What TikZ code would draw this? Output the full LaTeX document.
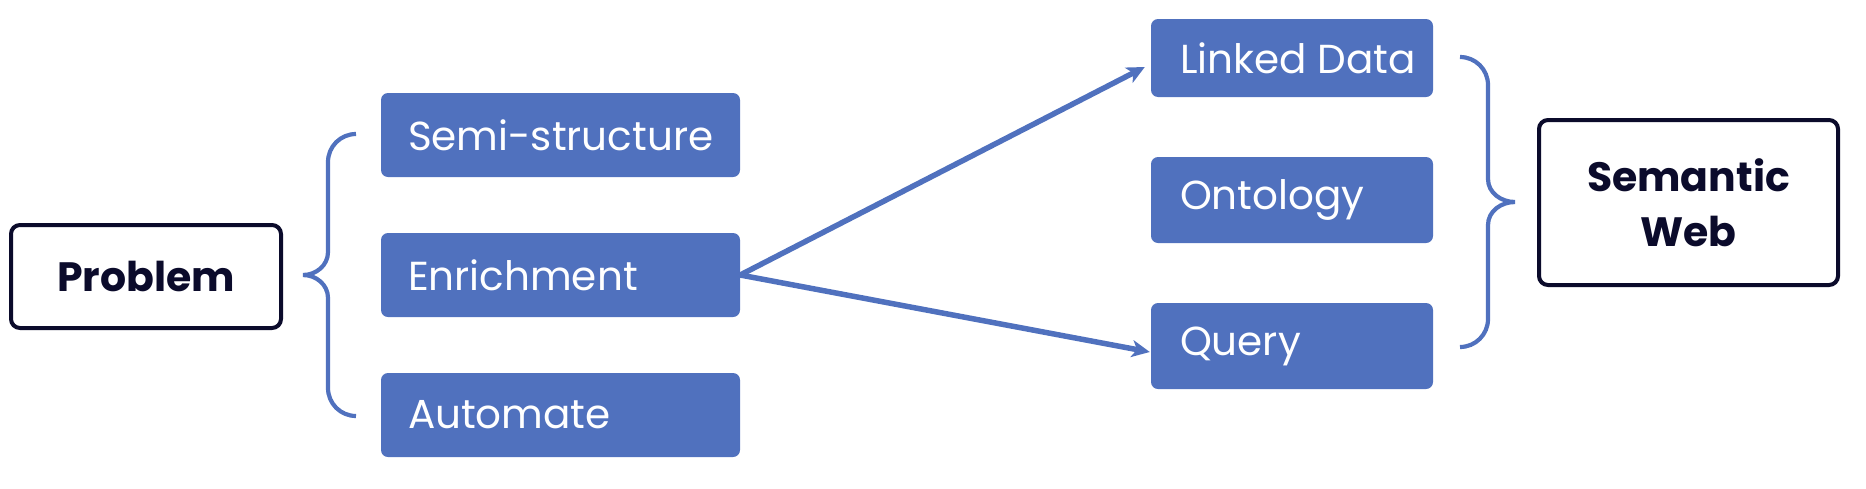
\documentclass[tikz,border=0pt]{standalone}
\usepackage{fontspec}
\setmainfont{Poppins}
\usetikzlibrary{arrows.meta}
\definecolor{boxblue}{HTML}{5071BE}
\definecolor{navy}{HTML}{0B0B2B}
\tikzset{
  bluebox/.style={fill=boxblue, rounded corners=7pt, text=white, font=\fontsize{40.5}{46}\selectfont,
    inner sep=0pt, anchor=center},
  whitebox/.style={draw=navy, line width=4pt, rounded corners=9pt, fill=white, text=navy,
    font=\fontsize{41}{55}\selectfont\bfseries, align=center, inner sep=0pt, anchor=center},
  conn/.style={draw=boxblue, line width=5.5pt, -{Stealth[length=18pt,width=17pt,inset=5pt]}},
  bracepath/.style={draw=boxblue, line width=4.2pt}
}
\begin{document}
\begin{tikzpicture}[x=1pt,y=-1pt]
\useasboundingbox (0,0) rectangle (1866,488);
% left column
\node[whitebox, minimum width=270pt, minimum height=103pt] (prob) at (146,276.5) {Problem};
\node[bluebox, minimum width=359pt, minimum height=84pt] (semi) at (560.5,135) {\makebox[305pt][l]{Semi-structure}};
\node[bluebox, minimum width=359pt, minimum height=84pt] (enr) at (560.5,275) {\makebox[305pt][l]{Enrichment}};
\node[bluebox, minimum width=359pt, minimum height=84pt] (auto) at (560.5,415) {\makebox[305pt][l]{Automate}};
% right column
\node[bluebox, minimum width=282pt, minimum height=78pt] (ld) at (1292,58) {\makebox[224pt][l]{Linked Data}};
\node[bluebox, minimum width=282pt, minimum height=86pt] (ont) at (1292,200) {\makebox[224pt][l]{Ontology}};
\node[bluebox, minimum width=282pt, minimum height=86pt] (qry) at (1292,346) {\makebox[224pt][l]{Query}};
\node[whitebox, minimum width=299pt, minimum height=165pt] (sw) at (1688.5,202.5) {Semantic\\Web};
% braces
\path[bracepath] (356,134) to[out=180,in=90] (328,162) -- (328,252) to[out=-90,in=0] (303,275)
  to[out=0,in=90] (328,298) -- (328,388) to[out=-90,in=180] (356,416);
\path[bracepath] (1460,57) to[out=0,in=90] (1488,85) -- (1488,179) to[out=-90,in=180] (1515,202)
  to[out=180,in=90] (1488,225) -- (1488,319) to[out=-90,in=0] (1460,347);
% connectors
\draw[conn] (enr.east) -- ([xshift=-6pt,yshift=-9pt]ld.west);
\draw[conn] (enr.east) -- ([xshift=-1pt,yshift=-6pt]qry.west);
\end{tikzpicture}
\end{document}
